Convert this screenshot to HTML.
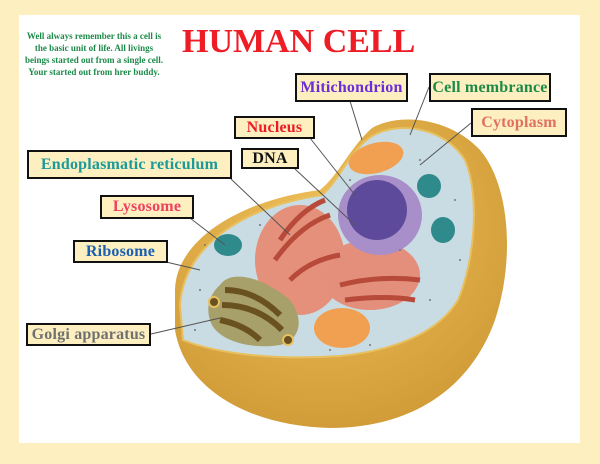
<!DOCTYPE html>
<html><head><meta charset="utf-8"><style>
body{margin:0;width:600px;height:464px;background:#fdefc0;position:relative;overflow:hidden;font-family:"Liberation Serif",serif}
.w{position:absolute;left:19px;top:15px;width:561px;height:428px;background:#fff}
.l{position:absolute;background:#fdefbf;border:2px solid #111;box-sizing:border-box;font-weight:bold;font-size:16px;letter-spacing:0.2px;display:flex;align-items:center;justify-content:center;white-space:nowrap}
svg{position:absolute;left:0;top:0}
</style></head><body>
<div class="w"></div>
<svg width="600" height="464">
<defs>
<radialGradient id="sh" cx="0.45" cy="0.35" r="0.7"><stop offset="0" stop-color="#f0c05a"/><stop offset="1" stop-color="#cf9a36"/></radialGradient>
</defs>
<path d="M175,290 C176,240 240,200 320,190 C338,176 352,145 372,128 C400,112 450,118 480,150 C510,185 515,260 495,320 C470,390 410,428 330,428 C250,426 185,390 175,330 Z" fill="url(#sh)"/>
<path d="M180,305 C184,245 245,206 322,195 C340,180 350,150 372,136 C400,120 445,128 465,160 C480,195 475,260 458,300 C440,330 400,350 340,356 C280,360 220,355 183,340 Z" fill="#c9dce4" stroke="#e8c060" stroke-width="2"/>
<ellipse cx="300" cy="260" rx="45" ry="55" fill="#e4907a"/>
<ellipse cx="370" cy="275" rx="50" ry="35" fill="#e38f7b"/>
<path d="M280,240 q20,-30 45,-40 M275,260 q25,-35 55,-45 M290,280 q20,-20 50,-25 M340,285 q40,-10 80,-5 M345,300 q40,-5 70,0" stroke="#b84a3a" stroke-width="5" fill="none"/>
<ellipse cx="380" cy="215" rx="42" ry="40" fill="#a98fc9"/>
<ellipse cx="377" cy="210" rx="30" ry="30" fill="#5e4a9a"/>
<path d="M220,285 C230,270 260,275 290,300 C305,320 300,340 280,345 C250,350 215,340 210,320 C205,305 212,292 220,285Z" fill="#a8a06a"/>
<path d="M225,290 q30,0 55,25 M222,305 q35,0 60,25 M220,320 q25,5 40,20" stroke="#6a5220" stroke-width="6" fill="none"/>
<circle cx="214" cy="302" r="5" fill="#6a5220" stroke="#e8c060" stroke-width="2"/>
<circle cx="288" cy="340" r="5" fill="#6a5220" stroke="#e8c060" stroke-width="2"/>
<ellipse cx="228" cy="245" rx="14" ry="11" fill="#2f8a8c"/>
<ellipse cx="429" cy="186" rx="12" ry="12" fill="#2f8a8c"/>
<ellipse cx="443" cy="230" rx="12" ry="13" fill="#2f8a8c"/>
<ellipse cx="376" cy="158" rx="28" ry="15" fill="#f0a050" transform="rotate(-15 376 158)"/>
<ellipse cx="342" cy="328" rx="28" ry="20" fill="#f0a050"/>
<g fill="#777">
<circle cx="205" cy="245" r="1"/><circle cx="200" cy="290" r="1"/><circle cx="260" cy="225" r="1"/><circle cx="420" cy="160" r="1"/><circle cx="455" cy="200" r="1"/><circle cx="460" cy="260" r="1"/><circle cx="400" cy="250" r="1"/><circle cx="430" cy="300" r="1"/><circle cx="195" cy="330" r="1"/><circle cx="330" cy="350" r="1"/><circle cx="370" cy="345" r="1"/><circle cx="350" cy="180" r="1"/>
</g>
<g stroke="#555" stroke-width="1">
<line x1="350" y1="101" x2="362" y2="140"/>
<line x1="429" y1="87" x2="410" y2="135"/>
<line x1="471" y1="123" x2="420" y2="165"/>
<line x1="310" y1="138" x2="355" y2="195"/>
<line x1="295" y1="169" x2="355" y2="225"/>
<line x1="231" y1="179" x2="290" y2="235"/>
<line x1="190" y1="218" x2="225" y2="245"/>
<line x1="166" y1="262" x2="200" y2="270"/>
<line x1="151" y1="334" x2="220" y2="318"/>
</g>
</svg>
<div style="position:absolute;left:24px;top:30px;width:140px;text-align:center;color:#1d8a4a;font-weight:bold;font-size:9px;line-height:12px">Well always remember this a cell is the basic unit of life. All livings beings started out from a single cell. Your started out from hrer buddy.</div>
<div style="position:absolute;left:182px;top:22px;color:#ee1c24;font-weight:bold;font-size:34px;line-height:40px">HUMAN CELL</div>
<div class="l" style="left:295px;top:73px;width:113px;height:29px;color:#6a2fd8">Mitichondrion</div>
<div class="l" style="left:429px;top:73px;width:122px;height:29px;color:#1d8a4a">Cell membrance</div>
<div class="l" style="left:471px;top:108px;width:96px;height:29px;color:#e07060">Cytoplasm</div>
<div class="l" style="left:234px;top:116px;width:81px;height:23px;color:#ee1c24">Nucleus</div>
<div class="l" style="left:241px;top:148px;width:58px;height:21px;color:#111">DNA</div>
<div class="l" style="left:27px;top:150px;width:205px;height:29px;color:#1a9a9a">Endoplasmatic reticulum</div>
<div class="l" style="left:100px;top:195px;width:94px;height:24px;color:#f04060">Lysosome</div>
<div class="l" style="left:73px;top:240px;width:95px;height:23px;color:#1a5fb0">Ribosome</div>
<div class="l" style="left:26px;top:323px;width:125px;height:23px;color:#707070">Golgi apparatus</div>
</body></html>
